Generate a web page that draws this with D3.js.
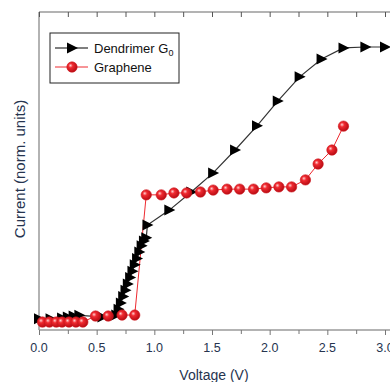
<!DOCTYPE html>
<html><head><meta charset="utf-8">
<script src="https://cdn.jsdelivr.net/npm/d3@7"></script>
<style>html,body{margin:0;padding:0;background:#fff;overflow:hidden}</style>
</head><body>
<svg id="c" width="390" height="382"></svg>
<script>
// Data (normalized current vs voltage)
const dendrimerV = [0.00,0.10,0.20,0.25,0.30,0.35,0.55,0.67,0.69,0.71,0.73,0.75,0.77,0.79,0.81,0.83,0.85,0.87,0.89,0.91,0.93,0.94,1.13,1.32,1.51,1.70,1.89,2.07,2.26,2.45,2.64,2.83,3.00];
const dendrimerI = [0.035,0.035,0.038,0.041,0.044,0.046,0.041,0.047,0.065,0.085,0.105,0.125,0.145,0.165,0.185,0.205,0.225,0.245,0.265,0.28,0.29,0.33,0.377,0.434,0.494,0.566,0.642,0.72,0.796,0.852,0.887,0.89,0.89];
const grapheneV = [0.03,0.09,0.15,0.20,0.26,0.32,0.38,0.49,0.60,0.72,0.83,0.93,1.06,1.17,1.28,1.40,1.51,1.63,1.74,1.86,1.97,2.08,2.19,2.31,2.42,2.54,2.64];
const grapheneI = [0.025,0.025,0.025,0.025,0.025,0.025,0.025,0.044,0.044,0.047,0.047,0.425,0.425,0.431,0.431,0.434,0.440,0.443,0.443,0.443,0.447,0.450,0.450,0.472,0.522,0.566,0.641];
const xTicks = [0.0,0.5,1.0,1.5,2.0,2.5,3.0];
const xTickLabels = ["0.0","0.5","1.0","1.5","2.0","2.5","3.0"];
const seriesNames = ["Dendrimer G","Graphene"];

const svg = d3.select("#c");
const L=39, T=12, B=330, R=395;
const x = d3.scaleLinear().domain([0,3]).range([L,385]);
const y = d3.scaleLinear().domain([0,1]).range([B,T]);
const textCol = "#26344f";
const font = "Liberation Sans, Arial, sans-serif";

const defs = svg.append("defs");
const g = defs.append("radialGradient").attr("id","ball").attr("cx","0.4").attr("cy","0.4").attr("r","0.6").attr("fx","0.35").attr("fy","0.35");
g.append("stop").attr("offset","0%").attr("stop-color","#ffd0d0");
g.append("stop").attr("offset","35%").attr("stop-color","#f02a30");
g.append("stop").attr("offset","100%").attr("stop-color","#b80c14");

// frame
svg.append("line").attr("x1",L).attr("x2",R).attr("y1",T).attr("y2",T).attr("stroke","#9a9a9a").attr("stroke-width",1.5);
svg.append("line").attr("x1",L).attr("x2",L).attr("y1",T).attr("y2",B).attr("stroke","#9a9a9a").attr("stroke-width",1.5);

// bottom axis
const minor = d3.range(0,3.01,0.25);
const bax = svg.append("g").attr("transform",`translate(0,${B})`)
  .call(d3.axisBottom(x).tickValues(minor).tickSize(5).tickFormat(""));
bax.select(".domain").attr("stroke","#9a9a9a").attr("stroke-width",1.5).attr("d",`M${L},0H${R}`);
bax.selectAll(".tick line").attr("stroke","#777").attr("y2",d=>xTicks.some(t=>Math.abs(t-d)<1e-6)?5:4);
svg.selectAll(".xl").data(xTicks).enter().append("text")
  .attr("x",d=>x(d)).attr("y",352).attr("text-anchor","middle")
  .attr("font-family",font).attr("font-size",12.5).attr("fill",textCol)
  .text((d,i)=>xTickLabels[i]);
// top mirror ticks
const tax = svg.append("g").attr("transform",`translate(0,${T})`)
  .call(d3.axisTop(x).tickValues(minor).tickSize(-5).tickFormat(""));
tax.select(".domain").remove();
tax.selectAll(".tick line").attr("stroke","#555");

// axis titles
svg.append("text").attr("x",214).attr("y",380).attr("text-anchor","middle")
  .attr("font-family",font).attr("font-size",14).attr("fill",textCol).text("Voltage (V)");
svg.append("text").attr("transform","translate(25,169) rotate(-90)").attr("text-anchor","middle")
  .attr("font-family",font).attr("font-size",15).attr("fill",textCol).text("Current (norm. units)");

const dData = dendrimerV.map((v,i)=>[v,dendrimerI[i]]);
const gData = grapheneV.map((v,i)=>[v,grapheneI[i]]);
const line = d3.line().x(d=>x(d[0])).y(d=>y(d[1]));

svg.append("path").datum(gData).attr("d",line).attr("fill","none").attr("stroke","#ee2a30").attr("stroke-width",1);
svg.append("path").datum(dData).attr("d",line).attr("fill","none").attr("stroke","#333").attr("stroke-width",1.2);

const tri = "M-5,-5.5L6,0L-5,5.5Z";
svg.selectAll(".dm").data(dData).enter().append("path").attr("d",tri)
  .attr("transform",d=>`translate(${x(d[0])},${y(d[1])})`).attr("fill","#000");
svg.selectAll(".gm").data(gData).enter().append("circle")
  .attr("cx",d=>x(d[0])).attr("cy",d=>y(d[1])).attr("r",5.2)
  .attr("fill","url(#ball)").attr("stroke","#d0151c").attr("stroke-width",0.6);

// legend
const lg = svg.append("g");
lg.append("rect").attr("x",50).attr("y",33).attr("width",129).attr("height",50).attr("fill","#fff").attr("stroke","#222").attr("stroke-width",1);
lg.append("line").attr("x1",55).attr("x2",88).attr("y1",48).attr("y2",48).attr("stroke","#000").attr("stroke-width",1.2);
lg.append("path").attr("d",tri).attr("transform","translate(72,48)").attr("fill","#000");
lg.append("line").attr("x1",55).attr("x2",88).attr("y1",67).attr("y2",67).attr("stroke","#ee2a30").attr("stroke-width",1);
lg.append("circle").attr("cx",72).attr("cy",67).attr("r",5.2).attr("fill","url(#ball)").attr("stroke","#d0151c").attr("stroke-width",0.6);
const t1 = lg.append("text").attr("x",94).attr("y",53).attr("font-family",font).attr("font-size",13).attr("fill","#111").text(seriesNames[0]);
t1.append("tspan").attr("font-size",9).attr("dy",3).text("0");
lg.append("text").attr("x",94).attr("y",72).attr("font-family",font).attr("font-size",13).attr("fill","#111").text(seriesNames[1]);
</script>
</body></html>
